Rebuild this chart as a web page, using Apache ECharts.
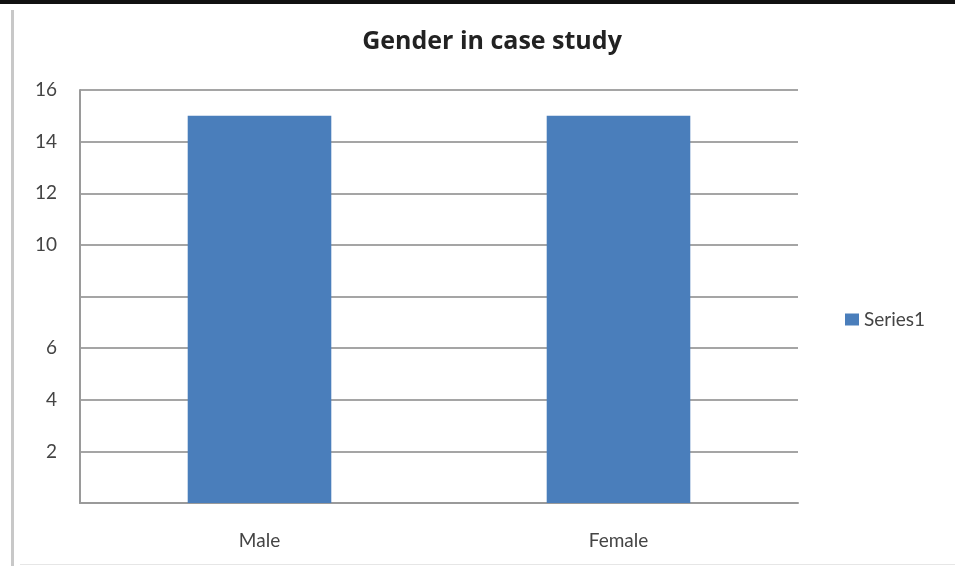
<!DOCTYPE html>
<html>
<head>
<meta charset="utf-8">
<script src="https://cdn.jsdelivr.net/npm/echarts@6/dist/echarts.min.js"></script>
<style>
  * { margin: 0; padding: 0; }
  #chart { width: 955px; height: 566px; background: #fff; }
</style>
</head>
<body>
<div id="chart"></div>
<script>
const categories = ["Male", "Female"];
const seriesValues = [15, 15];
const seriesName = "Series1";
// tick labels shown on the y axis (8 and 0 are blank in the picture)
const yTickLabels = { 0: "", 2: "2", 4: "4", 6: "6", 8: "", 10: "10", 12: "12", 14: "14", 16: "16" };

const dom = document.getElementById("chart");
const myChart = echarts.init(dom, null, { renderer: "canvas" });

const labelFont = "Lato, 'Open Sans', sans-serif";

const option = {
  animation: false,
  title: {
    text: "Gender in case study",
    left: 487,
    textAlign: "center",
    top: 24,
    textStyle: {
      fontFamily: "'Open Sans', sans-serif",
      fontSize: 25,
      fontWeight: "bold",
      color: "#222",
    },
  },
  legend: {
    orient: "vertical",
    left: 840,
    top: 305,
    itemWidth: 14,
    itemHeight: 12,
    itemGap: 8,
    textStyle: { fontFamily: labelFont, fontSize: 19, color: "#444" },
    data: [{ name: seriesName, icon: "rect" }],
  },
  grid: {
    left: 80,
    right: 157,
    top: 90,
    bottom: 63,
    containLabel: false,
  },
  xAxis: {
    type: "category",
    data: categories,
    axisLine: { lineStyle: { color: "#9a9a9a", width: 2 } },
    axisTick: { show: false },
    axisLabel: {
      margin: 28,
      fontFamily: labelFont,
      fontSize: 19,
      color: "#444",
    },
  },
  yAxis: {
    type: "value",
    min: 0,
    max: 16,
    interval: 2,
    axisLine: { show: true, lineStyle: { color: "#9a9a9a", width: 2 } },
    axisTick: { show: false },
    splitLine: { lineStyle: { color: "#a5a5a5", width: 2 } },
    axisLabel: {
      margin: 23,
      fontFamily: labelFont,
      fontSize: 19,
      color: "#444",
      formatter: (v) => (v in yTickLabels ? yTickLabels[v] : String(v)),
    },
  },
  series: [
    {
      name: seriesName,
      type: "bar",
      data: seriesValues,
      barWidth: "40%",
      itemStyle: { color: "#4a7ebb" },
    },
  ],
  graphic: [
    // frame decorations of the source image
    { type: "rect", shape: { x: 0, y: 0, width: 955, height: 4 }, style: { fill: "#111" } },
    { type: "rect", shape: { x: 11, y: 10, width: 3, height: 556 }, style: { fill: "#c8c8c8" } },
    { type: "rect", shape: { x: 20, y: 564, width: 935, height: 1 }, style: { fill: "#e6e6e6" } },
  ],
};

myChart.setOption(option);
window.addEventListener("resize", myChart.resize);
</script>
</body>
</html>
